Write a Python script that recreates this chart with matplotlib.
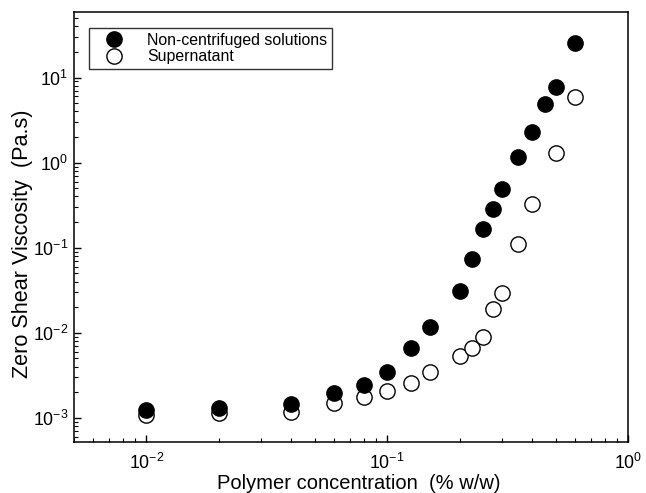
import matplotlib
matplotlib.use("Agg")
import matplotlib.pyplot as plt
from matplotlib.ticker import LogLocator, NullFormatter

plt.rcParams['font.family'] = ['Liberation Sans', 'DejaVu Sans']
plt.rcParams['mathtext.fontset'] = 'custom'
plt.rcParams['mathtext.rm'] = 'Liberation Sans'
plt.rcParams['mathtext.it'] = 'Liberation Sans:italic'
plt.rcParams['mathtext.bf'] = 'Liberation Sans:bold'

# Data
conc_filled = [0.01, 0.02, 0.04, 0.06, 0.08, 0.1, 0.125, 0.15, 0.2, 0.225,
               0.25, 0.275, 0.3, 0.35, 0.4, 0.45, 0.5, 0.6]
visc_filled = [1.23e-3, 1.3e-3, 1.45e-3, 1.95e-3, 2.43e-3, 3.47e-3, 6.6e-3, 0.0116,
               0.0312, 0.0736, 0.164, 0.283, 0.486, 1.18, 2.28, 4.86, 7.8, 25.8]
conc_open = [0.01, 0.02, 0.04, 0.06, 0.08, 0.1, 0.125, 0.15, 0.2, 0.225,
             0.25, 0.275, 0.3, 0.35, 0.4, 0.5, 0.6]
visc_open = [1.09e-3, 1.13e-3, 1.18e-3, 1.48e-3, 1.77e-3, 2.08e-3, 2.54e-3, 3.42e-3,
             5.3e-3, 6.7e-3, 8.97e-3, 0.0188, 0.0296, 0.11, 0.324, 1.29, 5.88]
labels = ["Non-centrifuged solutions", "Supernatant"]

fig = plt.figure(figsize=(6.46, 4.93), dpi=100)
ax = fig.add_axes([74/646, 51/493, 554/646, 430/493])

ax.plot(conc_open, visc_open, 'o', ms=11, mfc='white', mec='black', mew=1.0,
        label=labels[1], zorder=3)
ax.plot(conc_filled, visc_filled, 'o', ms=11, mfc='black', mec='black', mew=1.0,
        label=labels[0], zorder=4)

ax.set_xscale('log')
ax.set_yscale('log')
ax.set_xlim(0.005, 1.0)
ax.set_ylim(5.2e-4, 59)

ax.xaxis.set_major_locator(LogLocator(base=10, numticks=10))
ax.yaxis.set_major_locator(LogLocator(base=10, numticks=10))
ax.xaxis.set_minor_locator(LogLocator(base=10, subs=range(2, 10), numticks=20))
ax.yaxis.set_minor_locator(LogLocator(base=10, subs=range(2, 10), numticks=20))
ax.xaxis.set_minor_formatter(NullFormatter())
ax.yaxis.set_minor_formatter(NullFormatter())

ax.tick_params(which='both', direction='in', top=False, right=False, labelsize=12.8)
ax.tick_params(which='major', length=5, width=1)
ax.tick_params(which='minor', length=3, width=0.8)
ax.tick_params(axis='x', which='major', pad=7.5)
ax.tick_params(axis='y', which='major', pad=4)
for s in ax.spines.values():
    s.set_linewidth(1.1)

ax.set_xlabel("Polymer concentration  (% w/w)", fontsize=14.5)
ax.xaxis.set_label_coords(0.514, -0.074, transform=ax.transAxes)
ax.xaxis.label.set_va('top')
ax.set_ylabel("Zero Shear Viscosity  (Pa.s)", fontsize=15.6)
ax.yaxis.set_label_coords(-0.093, 0.462, transform=ax.transAxes)
ax.yaxis.label.set_va('center')

h, l = ax.get_legend_handles_labels()
leg = ax.legend(h[::-1], l[::-1], loc='upper left', bbox_to_anchor=(0.027, 0.963),
                borderaxespad=0, fontsize=11.4, frameon=True, fancybox=False,
                edgecolor='black', handletextpad=0.77, borderpad=0.3,
                labelspacing=0.1, handlelength=2.6)
leg.get_frame().set_linewidth(1.0)

fig.savefig("out.png", dpi=100)
